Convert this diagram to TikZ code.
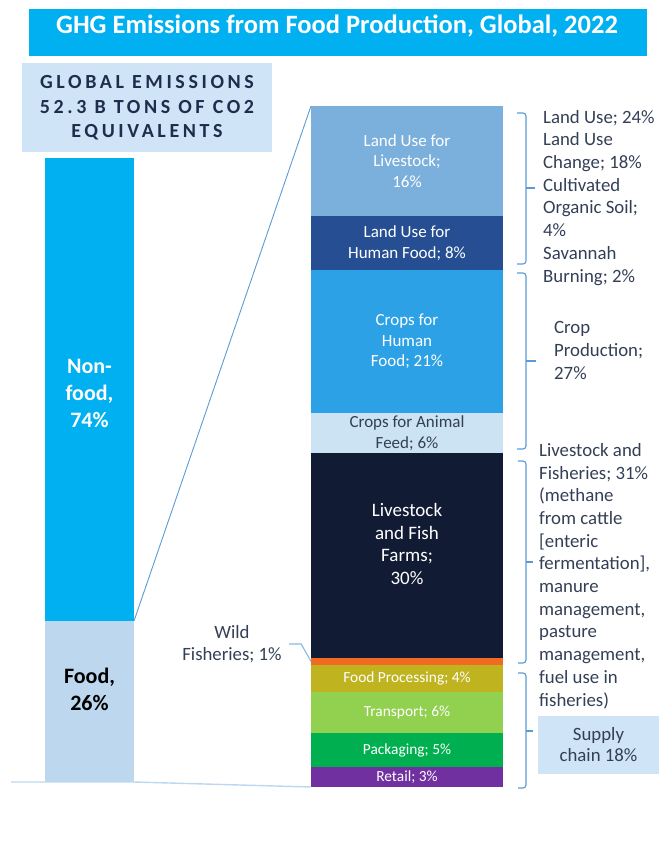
\documentclass[tikz,border=0pt]{standalone}
\usepackage{fontspec}
\setmainfont{Carlito}
\newfontfamily\spacedfont[LetterSpace=18]{Carlito}
\definecolor{titleblue}{HTML}{00B0F0}
\definecolor{boxblue}{HTML}{CFE4F7}
\definecolor{navytext}{HTML}{1F2D4D}
\definecolor{labeltext}{HTML}{333F56}
\definecolor{nonfoodcol}{HTML}{00B0F0}
\definecolor{foodcol}{HTML}{BDD7EE}
\definecolor{lulivecol}{HTML}{7BB0DC}
\definecolor{luhumancol}{HTML}{264E92}
\definecolor{crhumancol}{HTML}{2CA1E6}
\definecolor{crfeedcol}{HTML}{CCE3F3}
\definecolor{farmscol}{HTML}{111B33}
\definecolor{wildcol}{HTML}{F26A22}
\definecolor{proccol}{HTML}{BFB420}
\definecolor{transcol}{HTML}{92D050}
\definecolor{packcol}{HTML}{00B050}
\definecolor{retailcol}{HTML}{7030A0}
\definecolor{bracecol}{HTML}{5B9BD5}
\begin{document}
\begin{tikzpicture}[x=1pt,y=-1pt,
	bar/.style={minimum width=89pt, inner sep=0pt, outer sep=0pt, anchor=north west},
	seg/.style={minimum width=192pt, inner sep=0pt, outer sep=0pt, anchor=north west, align=center, text=white, font=\fontsize{17}{20.5}\selectfont},
	smallseg/.style={seg, font=\fontsize{15.4}{18}\selectfont},
	bigbold/.style={align=center, font=\bfseries\fontsize{22}{27}\selectfont},
	sidelbl/.style={anchor=base west, align=left, inner sep=0pt, text=labeltext, font=\fontsize{18.8}{22.7}\selectfont},
	brc/.style={draw=bracecol, line width=1.1pt, rounded corners=3pt},
	lead/.style={draw=bracecol!70, line width=1.1pt}]
	\useasboundingbox (0,0) rectangle (668,846);
	% title and total
	\node[fill=titleblue, minimum width=618pt, minimum height=47pt, inner sep=0pt, anchor=north west] (titlebox) at (29,9) {};
	\node[anchor=base, text=white, font=\bfseries\fontsize{26.5}{31}\selectfont] (title) at (337,33) {GHG Emissions from Food Production, Global, 2022};
	\node[fill=boxblue, minimum width=250pt, minimum height=89pt, inner sep=0pt, anchor=north west] (globalbox) at (22,63) {};
	\node[text=navytext, align=center, font=\spacedfont\bfseries\fontsize{20}{24.5}\selectfont] (globaltxt) at (147,108) {GLOBAL\hspace{8pt}EMISSIONS\\52.3 B TONS OF CO2\\EQUIVALENTS};
	% left bar
	\node[bar, fill=nonfoodcol, minimum height=463pt] (nonfood) at (45,158) {};
	\node[bar, fill=foodcol, minimum height=161pt] (food) at (45,621) {};
	\node[bigbold, text=white] (nonfoodtxt) at (89.5,393) {Non-\\food,\\74\%};
	\node[bigbold, text=black] (foodtxt) at (89.5,689) {Food,\\26\%};
	% right bar
	\node[seg, fill=lulivecol, minimum height=110pt] (lulive) at (311,106) {Land Use for\\Livestock;\\16\%};
	\node[seg, fill=luhumancol, minimum height=54pt] (luhuman) at (311,216) {Land Use for\\Human Food; 8\%};
	\node[seg, fill=crhumancol, minimum height=143pt] (crhuman) at (311,270) {Crops for\\Human\\Food; 21\%};
	\node[seg, fill=crfeedcol, minimum height=40pt, text=labeltext] (crfeed) at (311,413) {Crops for Animal\\Feed; 6\%};
	\node[seg, fill=farmscol, minimum height=205pt] (farms) at (311,453) {};
	\node[seg, anchor=center, font=\fontsize{19}{22.7}\selectfont] (farmstxt) at (407,544) {Livestock\\and Fish\\Farms;\\30\%};
	\node[seg, fill=wildcol, minimum height=7pt] (wild) at (311,658) {};
	\node[smallseg, fill=proccol, minimum height=27pt] (proc) at (311,665) {Food Processing; 4\%};
	\node[smallseg, fill=transcol, minimum height=41pt] (trans) at (311,692) {Transport; 6\%};
	\node[smallseg, fill=packcol, minimum height=34pt] (pack) at (311,733) {Packaging; 5\%};
	\node[smallseg, fill=retailcol, minimum height=20pt] (retail) at (311,767) {Retail; 3\%};
	% zoom lines
	\coordinate (axisend) at (11,782);
	\draw[bracecol, line width=0.9pt] (food.north east) -- (lulive.north west);
	\draw[foodcol, line width=1.4pt] (axisend) -- (food.south east) -- (retail.south west);
	% wild fisheries
	\node[text=labeltext, align=center, font=\fontsize{18.8}{22}\selectfont] (wildtxt) at (232,644) {Wild\\Fisheries; 1\%};
	\draw[lead] ([xshift=4pt]wildtxt.east) -- ++(12,0) -- (wild.west);
	% braces
	\draw[brc] (517,113) -| (526,264) -- (517,264);
	\draw[brc] (526,188) -- (535,188);
	\draw[brc] (517,273) -| (526,449) -- (517,449);
	\draw[brc] (526,361) -- (536,361);
	\draw[brc] (518,461) -| (526,663) -- (518,663);
	\draw[brc] (526,562) -- (533,562);
	\draw[brc] (518,673) -| (526,788) -- (518,788);
	\draw[brc] (526,731) -- (533,731);
	% side labels (placed at last baseline)
	\node[sidelbl] (landlbl) at (543,282) {Land Use; 24\%\\Land Use\\Change; 18\%\\Cultivated\\Organic Soil;\\4\%\\Savannah\\Burning; 2\%};
	\node[sidelbl] (croplbl) at (554,379) {Crop\\Production;\\27\%};
	\node[sidelbl] (livelbl) at (539,706) {Livestock and\\Fisheries; 31\%\\(methane\\from cattle\\{[}enteric\\fermentation],\\manure\\management,\\pasture\\management,\\fuel use in\\fisheries)};
	\node[fill=boxblue, minimum width=121pt, minimum height=58pt, inner sep=0pt, text=labeltext, align=center, font=\fontsize{18.8}{21}\selectfont] (supply) at (598.5,745) {Supply\\chain 18\%};
\end{tikzpicture}
\end{document}
